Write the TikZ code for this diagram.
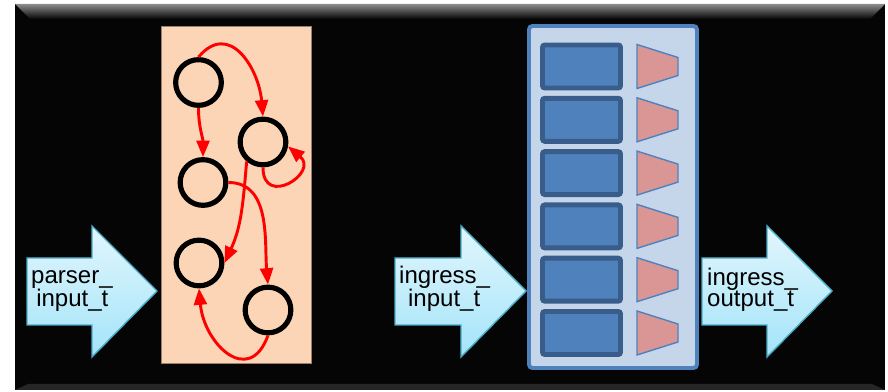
\documentclass[tikz,border=0pt]{standalone}
\usepackage{fontspec}
\setmainfont{Liberation Sans}
\usetikzlibrary{arrows.meta}

\definecolor{peach}{HTML}{FBD5B5}
\definecolor{panelfill}{HTML}{C6D6EA}
\definecolor{panelline}{HTML}{4F81BD}
\definecolor{slotfill}{HTML}{4F81BD}
\definecolor{slotline}{HTML}{385D8A}
\definecolor{gatefill}{HTML}{D99694}
\definecolor{arrowtop}{HTML}{E2F6FD}
\definecolor{arrowbottom}{HTML}{A3E4F9}
\definecolor{arrowline}{HTML}{4BACC6}

\begin{document}
\begin{tikzpicture}[%
        x = 0.03cm,
        y = 0.03cm,
        > = {Triangle[length = 14pt, width = 11pt]},
        state/.style = {circle, draw = black, line width = 4.4pt,
            minimum size = 39pt, inner sep = 0pt},
        trans/.style = {->, red, line width = 2.5pt},
        typename/.style = {anchor = base west, inner sep = 0pt, align = left,
            font = \fontsize{20.5}{18.7}\selectfont},
        blockarrow/.style = {draw = arrowline, line width = 1.2pt,
            top color = arrowtop, bottom color = arrowbottom}
    ]

        % Fix the page size and draw the black frame.
        \useasboundingbox (0, 0) rectangle (888, 392);
        \fill[black!98] (15, 2) rectangle (885, 388);
        \shade[top color = black!45, bottom color = black!98]
            (15, 388) -- (885, 388) -- (870, 373) -- (30, 373) -- cycle;
        \fill[black!85] (15, 2) -- (885, 2) -- (872, 8) -- (28, 8) -- cycle;

        % The parser: a box of states.
        \draw[fill = peach, draw = peach!60!black, line width = 0.5pt]
            (161, 29) rectangle (311, 366);

        \node[state] (s1) at (198.5, 309.5) {};
        \node[state] (s2) at (263, 250) {};
        \node[state] (s3) at (203, 209.5) {};
        \node[state] (s4) at (199, 129) {};
        \node[state] (s5) at (268, 82) {};

        % Transitions between the states.
        \draw[trans] (s1.north) to[out = 50, in = 95, looseness = 1.4] (s2.north);
        \draw[trans] (s1.south) to[out = -90, in = 90] (s3.north);
        \draw[trans] (s2.south) to[out = -90, in = -40, looseness = 3.2] (s2.-10);
        \draw[trans] (s2.-130) to[out = -95, in = 65] (s4.east);
        \draw[trans] (s3.east) to[out = 0, in = 95] (s5.north);
        \draw[trans] (s5.south) to[out = -110, in = -85, looseness = 1.7] (s4.south);

        % The ingress block: six slots, each with its own gate.
        \draw[line width = 3.4pt, draw = panelline, fill = panelfill,
            rounded corners = 3pt] (529, 24) rectangle (697, 366);

        \foreach \k[%
            evaluate = {\k as \Y using 325.5 - 53.3*\k}
        ] in {0, ..., 5}{%
            \draw[line width = 4.2pt, draw = slotline, fill = slotfill,
                rounded corners = 2pt]
                (542.5, \Y - 21.5) rectangle (620.5, \Y + 21.5);
            \draw[line width = 1.2pt, draw = panelline, fill = gatefill]
                (637, \Y + 22) -- (678, \Y + 9) -- (678, \Y - 9)
                -- (637, \Y - 22) -- cycle;
        }

        % Block arrows for the types going in and out.
        \foreach \L/\B/\T in {27/92/157, 395/461/526, 702/767/832}{%
            \draw[blockarrow] (\L, 134) -- (\B, 134) -- (\B, 166) -- (\T, 101)
                -- (\B, 35) -- (\B, 67) -- (\L, 67) -- cycle;
        }

        % The last line of each label sits on the base anchor.
        \node[typename] (parserin) at (31, 85)
            {parser\_\\\hspace{4.3pt}input\_t};
        \node[typename] (ingressin) at (399, 85)
            {ingress\_\\\hspace{7.6pt}input\_t};
        \node[typename] (ingressout) at (707, 85)
            {ingress\_\\output\_t};
    \end{tikzpicture}
\end{document}
